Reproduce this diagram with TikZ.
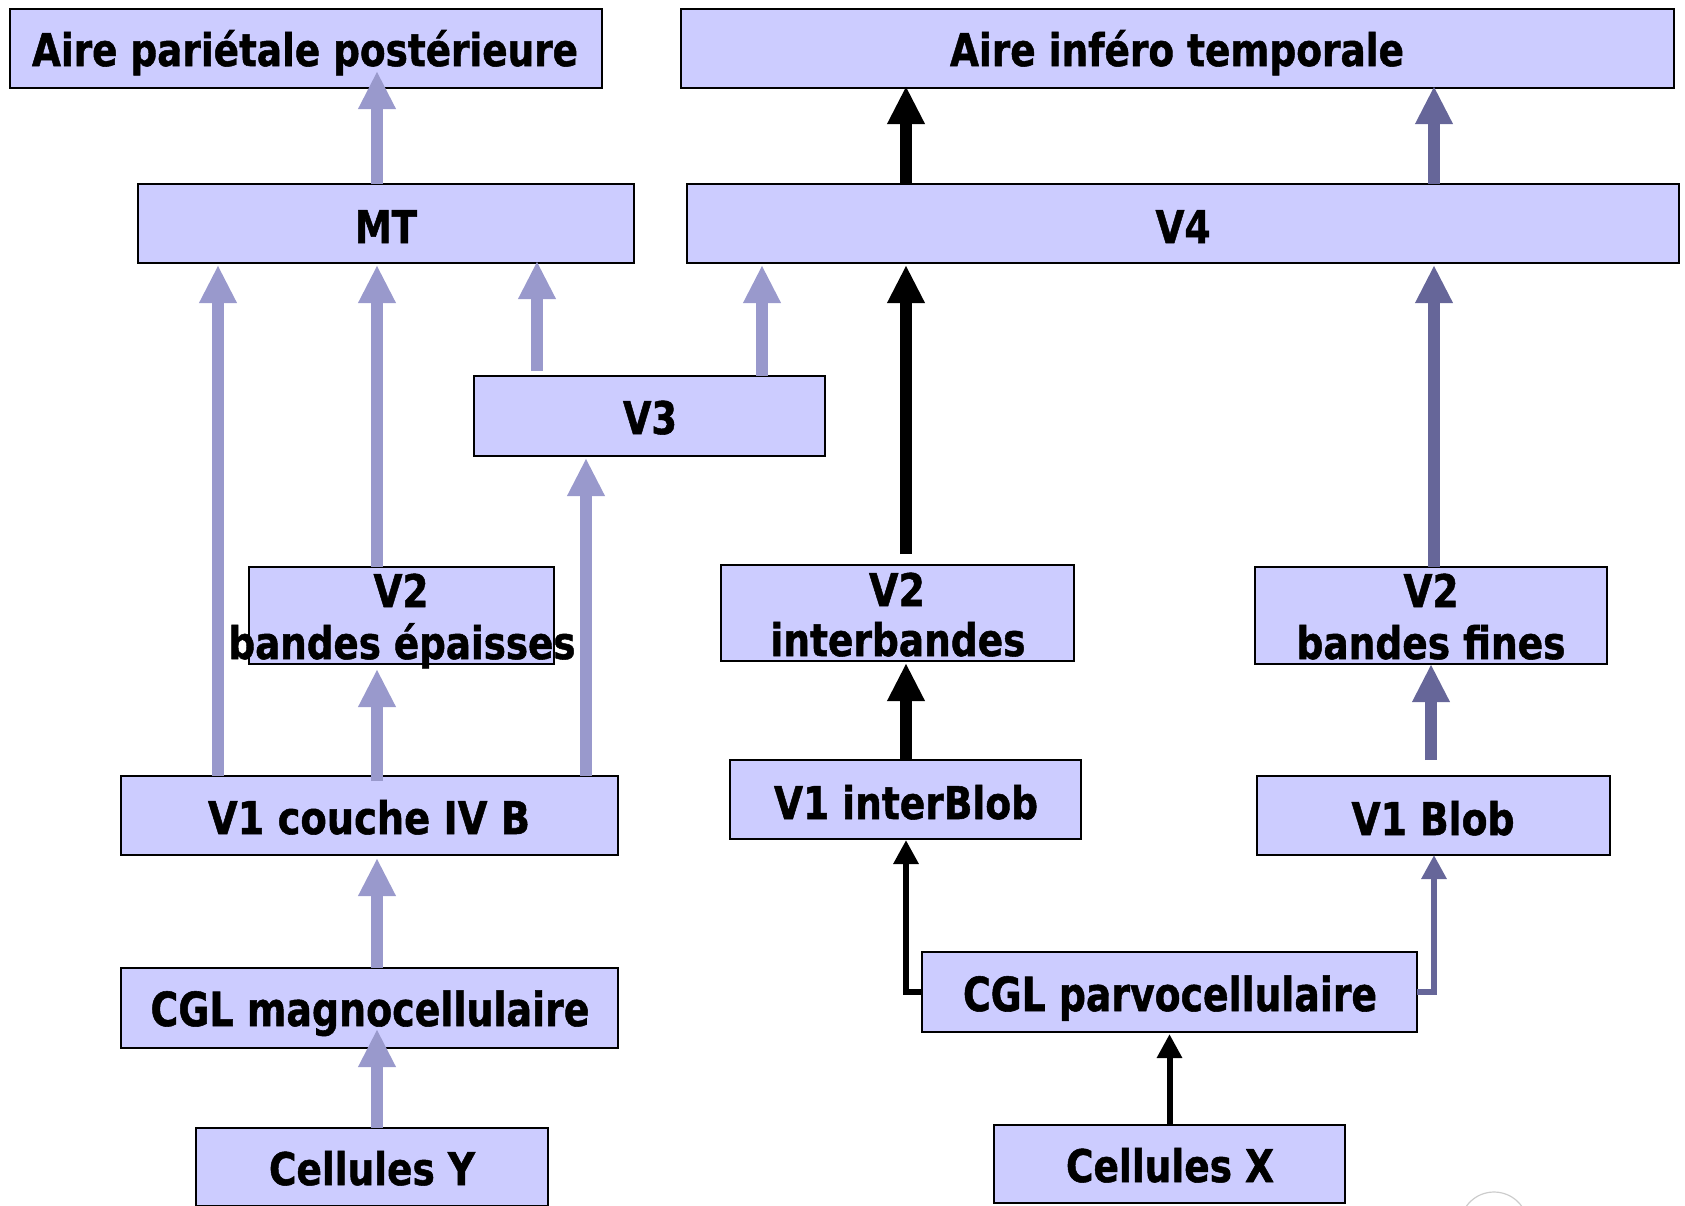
\documentclass[tikz,border=0pt]{standalone}
\usepackage{graphicx}
\usepackage{fontspec}
\setmainfont{DejaVu Sans}[BoldFeatures={FakeBold=1.2}]
\usetikzlibrary{arrows.meta,calc}
\definecolor{boxfill}{HTML}{CCCCFF}
\definecolor{lpur}{HTML}{9999CC}
\definecolor{dpur}{HTML}{666699}
\newcommand{\fitw}[2]{\resizebox{#1pt}{\height}{#2}}
\begin{document}
\begin{tikzpicture}[x=1pt,y=-1pt,
  box/.style={draw=black,line width=2.4pt,fill=boxfill,inner sep=0pt,outer sep=0pt},
  lbl/.style={anchor=base,inner sep=0pt,outer sep=0pt,font=\bfseries\fontsize{45}{50}\selectfont},
  biglbl/.style={lbl,font=\bfseries\fontsize{47}{52}\selectfont},
  thickarrow/.style={line width=11.5pt,-{Triangle[length=38pt,width=35pt]}},
  thinarrow/.style={line width=6pt,line join=miter,-{Triangle[length=24pt,width=24pt]}},
  lp/.style={draw=lpur},dp/.style={draw=dpur},bk/.style={draw=black}]
\useasboundingbox (0,0) rectangle (1685,1205);
\clip (0,0) rectangle (1685,1205);
% column coordinates
\coordinate (xA) at (218,0);
\coordinate (xB) at (377,0);
\coordinate (xC) at (537,0);
\coordinate (xD) at (586,0);
\coordinate (xE) at (762,0);
\coordinate (xF) at (906,0);
\coordinate (xH) at (1434,0);
\coordinate (xH2) at (1431,0);
% boxes
\node[box,minimum width=592pt,minimum height=79pt] (app) at (306,48.5) {};
\node[box,minimum width=993pt,minimum height=79pt] (ait) at (1177.5,48.5) {};
\node[box,minimum width=496pt,minimum height=79pt] (mt) at (386,223.5) {};
\node[box,minimum width=992pt,minimum height=79pt] (v4) at (1183,223.5) {};
\node[box,minimum width=351pt,minimum height=80pt] (v3) at (649.5,416) {};
\node[box,minimum width=305pt,minimum height=97pt] (v2e) at (401.5,615.5) {};
\node[box,minimum width=353pt,minimum height=96pt] (v2i) at (897.5,613) {};
\node[box,minimum width=352pt,minimum height=97pt] (v2f) at (1431,615.5) {};
\node[box,minimum width=497pt,minimum height=79pt] (v1b) at (369.5,815.5) {};
\node[box,minimum width=351pt,minimum height=79pt] (v1i) at (905.5,799.5) {};
\node[box,minimum width=353pt,minimum height=79pt] (v1bl) at (1433.5,815.5) {};
\node[box,minimum width=497pt,minimum height=80pt] (cglm) at (369.5,1008) {};
\node[box,minimum width=495pt,minimum height=80pt] (cglp) at (1169.5,992) {};
\node[box,minimum width=352pt,minimum height=78pt] (celY) at (372,1167) {};
\node[box,minimum width=351pt,minimum height=78pt] (celX) at (1169.5,1164) {};
% labels
\node[lbl] (app-t) at (305,66) {\fitw{546}{Aire pariétale postérieure}};
\node[lbl] (ait-t) at (1177,66) {\fitw{454}{Aire inféro temporale}};
\node[lbl] (mt-t) at (386,243) {\fitw{62}{MT}};
\node[lbl] (v4-t) at (1183,243) {\fitw{55}{V4}};
\node[lbl] (v3-t) at (650,434) {\fitw{54}{V3}};
\node[lbl] (v2e-a) at (401,607) {\fitw{55}{V2}};
\node[lbl] (v2e-b) at (402,659) {\fitw{347}{bandes épaisses}};
\node[lbl] (v2i-a) at (897,606) {\fitw{56}{V2}};
\node[lbl] (v2i-b) at (898,656) {\fitw{255}{interbandes}};
\node[lbl] (v2f-a) at (1431,607) {\fitw{55}{V2}};
\node[lbl] (v2f-b) at (1431,659) {\fitw{269}{bandes fines}};
\node[lbl] (v1b-t) at (369,834) {\fitw{322}{V1 couche IV B}};
\node[lbl] (v1i-t) at (906,819) {\fitw{264}{V1 interBlob}};
\node[lbl] (v1bl-t) at (1433,835) {\fitw{163}{V1 Blob}};
\node[biglbl] (cglm-t) at (370,1026) {\fitw{439}{CGL magnocellulaire}};
\node[biglbl] (cglp-t) at (1170,1011) {\fitw{414}{CGL parvocellulaire}};
\node[lbl] (celY-t) at (372,1185) {\fitw{206}{Cellules Y}};
\node[lbl] (celX-t) at (1170,1182) {\fitw{208}{Cellules X}};
% light purple arrows (magno pathway)
\draw[thickarrow,lp] (mt.north -| xB) -- ($(app.south -| xB)+(0,-17)$);
\draw[thickarrow,lp] (v1b.north -| xA) -- ($(mt.south -| xA)+(0,2)$);
\draw[thickarrow,lp] (v2e.north -| xB) -- ($(mt.south -| xB)+(0,2)$);
\draw[thickarrow,lp] ($(v1b.north -| xB)+(0,5)$) -- ($(v2e.south -| xB)+(0,5)$);
\draw[thickarrow,lp] (v1b.north -| xD) -- ($(v3.south -| xD)+(0,2)$);
\draw[thickarrow,lp] ($(v3.north -| xC)+(0,-5)$) -- ($(mt.south -| xC)+(0,-2)$);
\draw[thickarrow,lp] (v3.north -| xE) -- ($(v4.south -| xE)+(0,2)$);
\draw[thickarrow,lp] (cglm.north -| xB) -- ($(v1b.south -| xB)+(0,3)$);
\draw[thickarrow,lp] (celY.north -| xB) -- ($(cglm.south -| xB)+(0,-19)$);
% black arrows (interblob pathway)
\draw[thickarrow,bk] (v4.north -| xF) -- ($(ait.south -| xF)+(0,-2)$);
\draw[thickarrow,bk] ($(v2i.north -| xF)+(0,-11)$) -- ($(v4.south -| xF)+(0,2)$);
\draw[thickarrow,bk] (v1i.north -| xF) -- ($(v2i.south -| xF)+(0,2)$);
\draw[thinarrow,bk] (cglp.west) -| ($(v1i.south -| xF)+(0,1)$);
\draw[thinarrow,bk] (celX.north) -- ($(cglp.south)+(0,2)$);
% dark purple arrows (blob pathway)
\draw[thickarrow,dp] (v4.north -| xH) -- ($(ait.south -| xH)+(0,-2)$);
\draw[thickarrow,dp] (v2f.north -| xH) -- ($(v4.south -| xH)+(0,2)$);
\draw[thickarrow,dp] ($(v1bl.north -| xH2)+(0,-16)$) -- (v2f.south -| xH2);
\draw[thinarrow,dp] (cglp.east) -| (v1bl.south -| xH);
% faint arc bottom right
\coordinate (arcc) at (1494,1226);
\draw[gray!40,line width=1.2pt] (arcc) circle[radius=34pt];
\end{tikzpicture}
\end{document}
